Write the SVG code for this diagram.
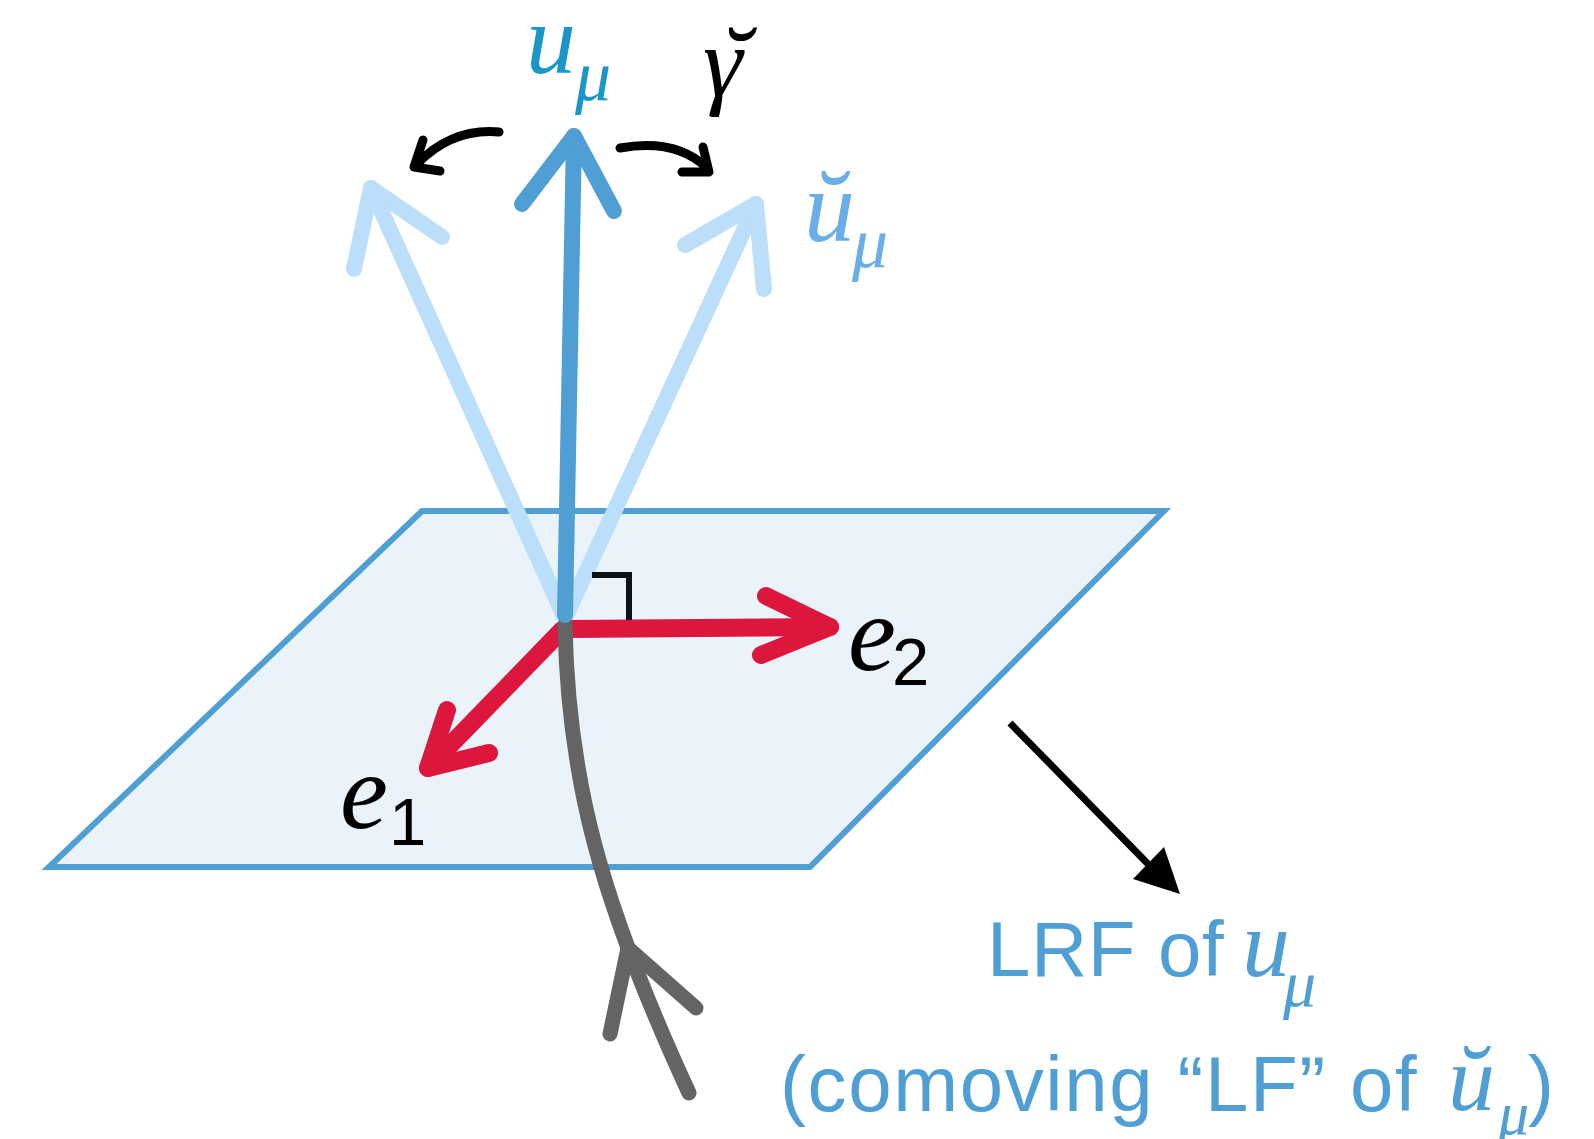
<svg xmlns="http://www.w3.org/2000/svg" width="1594" height="1139" viewBox="0 0 1594 1139">
<style>
.plane{fill:#eaf3fa;stroke:#4f9fd5;stroke-width:6;stroke-linejoin:miter}
.light{fill:none;stroke:#bbdefb;stroke-width:16;stroke-linecap:round;stroke-linejoin:round}
.blue{fill:none;stroke:#4f9fd5;stroke-width:16;stroke-linecap:round;stroke-linejoin:round}
.red{fill:none;stroke:#dc163d;stroke-width:18;stroke-linecap:round;stroke-linejoin:round}
.grey{fill:none;stroke:#646464;stroke-width:15;stroke-linecap:round;stroke-linejoin:round}
.blk{fill:none;stroke:#000;stroke-width:9;stroke-linecap:round;stroke-linejoin:round}
.math{font-family:"Liberation Serif","DejaVu Serif",serif;font-style:italic}
.sans{font-family:"Liberation Sans",Arial,sans-serif;font-style:normal}
.num{font-family:"Liberation Sans",Arial,sans-serif;font-style:normal}
</style>
<g id="plane"><polygon class="plane" points="422,511 1164,511 810,867 49,867"/></g>
<g id="connectors">
  <g id="u-breve-left">
    <path class="light" d="M565,618 L371,188"/>
    <path class="light" d="M354,269 L371,188 L442,237"/>
  </g>
  <g id="u-breve-right">
    <path class="light" d="M565,618 L756,204"/>
    <path class="light" d="M685,245 L756,204 L764,289"/>
  </g>
  <g id="e1-arrow">
    <path class="red" d="M562,630 L428,768"/>
    <path class="red" d="M447,710 L428,768 L489,753"/>
  </g>
  <g id="e2-arrow">
    <path class="red" d="M566,629 L830,627"/>
    <path class="red" d="M766,596 L830,627 L761,655"/>
  </g>
  <g id="worldline">
    <path class="grey" d="M565,625 C568,780 600,900 689,1093"/>
    <path class="grey" d="M610,1034 L628,948 L696,1008"/>
  </g>
  <g id="u-arrow">
    <path class="blue" d="M565,615 L574,136"/>
    <path class="blue" d="M522,204 L574,136 L614,211"/>
  </g>
  <g id="right-angle"><path d="M592,575 L629,575 L629,620" fill="none" stroke="#0a1118" stroke-width="6"/></g>
  <g id="rot-left">
    <path class="blk" d="M499,132 Q452,128 417,164"/>
    <path class="blk" d="M423,140 L414,167 L440,171"/>
  </g>
  <g id="rot-right">
    <path class="blk" d="M620,148 Q676,138 707,168"/>
    <path class="blk" d="M703,147 L709,172 L682,172"/>
  </g>
  <g id="lrf-arrow">
    <line x1="1010" y1="723" x2="1150" y2="866" stroke="#000" stroke-width="7"/>
    <polygon points="1180,894 1133,879 1164,847" fill="#000"/>
  </g>
</g>
<g id="label-u">
  <text class="math" x="526" y="73" font-size="100" fill="#1a96c8">u<tspan x="575" y="100" font-size="72">μ</tspan></text>
</g>
<g id="label-gamma">
  <text class="math" x="703" y="96" font-size="100" fill="#000">γ<tspan x="718">˘</tspan></text>
</g>
<g id="label-ubreve">
  <text class="math" x="804" y="241" font-size="102" fill="#6aaee8">ŭ<tspan x="852" y="267" font-size="72">μ</tspan></text>
</g>
<g id="label-e1">
  <text class="math" x="340" y="828" font-size="108" fill="#000">e<tspan class="num" x="389" y="845" font-size="67">1</tspan></text>
</g>
<g id="label-e2">
  <text class="math" x="848" y="670" font-size="108" fill="#000">e<tspan class="num" x="892" y="685" font-size="67">2</tspan></text>
</g>
<g id="label-lrf">
  <text x="987" y="976" fill="#4f9fd5"><tspan class="sans" font-size="78" letter-spacing="0.5">LRF of</tspan><tspan class="math" x="1242" font-size="96">u</tspan><tspan class="math" x="1283" y="1006" font-size="66">μ</tspan></text>
  <text x="780" y="1111" fill="#4f9fd5"><tspan class="sans" font-size="78" letter-spacing="1.6">(comoving “LF” of</tspan><tspan class="math" x="1448" y="1110" font-size="94">ŭ</tspan><tspan class="math" x="1498" y="1134" font-size="62">μ</tspan><tspan class="sans" x="1528" y="1111" font-size="78">)</tspan></text>
</g>
</svg>
